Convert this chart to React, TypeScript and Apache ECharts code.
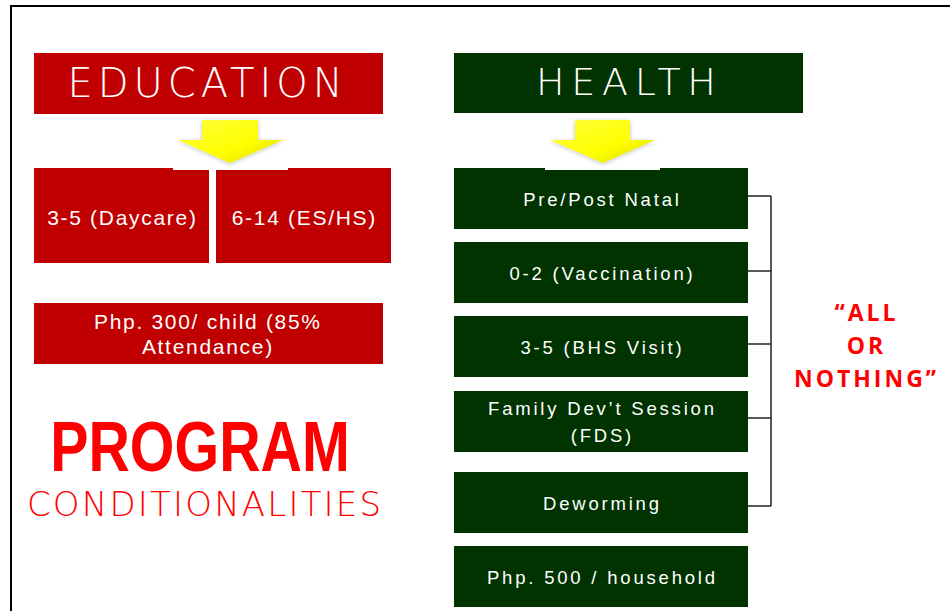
import React, { useEffect, useRef } from "react";
import * as echarts from "echarts";

const EDU_TITLE = "EDUCATION";
const HEALTH_TITLE = "HEALTH";
const EDU_AGES = ["3-5 (Daycare)", "6-14 (ES/HS)"];
const EDU_GRANT = "Php. 300/ child (85%\nAttendance)";
const HEALTH_ITEMS = [
  "Pre/Post Natal",
  "0-2 (Vaccination)",
  "3-5 (BHS Visit)",
  "Family Dev\u2019t Session\n(FDS)",
  "Deworming",
];
const HEALTH_GRANT = "Php. 500 / household";
const MAIN_TITLE = "PROGRAM";
const SUB_TITLE = "CONDITIONALITIES";
const RULE_TEXT = "\u201CALL\nOR\nNOTHING\u201D";

// layout
const RED = "#C00000";
const GREEN = "#003300";
const HEALTH_TOPS = [168, 242, 316, 391, 472];
const BRACKET_YS = [196, 271, 344, 418, 506];

function arrow(cx: number, shaftL: number, shaftR: number, headL: number, headR: number) {
  return [
    {
      type: "rect",
      shape: { x: headL - 5, y: 116, width: headR - headL + 10, height: 54 },
      style: { fill: "#ffffff" },
    },
    {
      type: "polygon",
      shape: {
        points: [
          [shaftL, 120],
          [shaftR, 120],
          [shaftR, 140],
          [headR, 140],
          [cx, 163],
          [headL, 140],
          [shaftL, 140],
        ],
      },
      style: {
        fill: new echarts.graphic.LinearGradient(0, 0, 1, 1, [
          { offset: 0, color: "#FFFF40" },
          { offset: 0.6, color: "#FFFF00" },
          { offset: 1, color: "#D8D800" },
        ]),
        shadowBlur: 4,
        shadowColor: "rgba(0,0,0,0.25)",
        shadowOffsetY: 1,
      },
    },
  ];
}

function boxText(x: number, y: number, text: string, size: number, lh: number) {
  return {
    type: "text",
    x,
    y,
    style: {
      text,
      x: 0,
      y: 0,
      fill: "#ffffff",
      font: `${size}px "Liberation Sans", Arial, sans-serif`,
      textAlign: "center",
      textVerticalAlign: "middle",
      lineHeight: lh,
    },
  };
}

export default function App() {
  const ref = useRef<HTMLDivElement>(null);
  useEffect(() => {
    if (!ref.current) return;
    const chart = echarts.init(ref.current, undefined, { renderer: "svg" });
    const spacing: Record<string, number> = {};
    const addSp = (t: string, sp: number) => t.split("\n").forEach((l) => (spacing[l] = sp));
    addSp(EDU_TITLE, 5);
    addSp(HEALTH_TITLE, 6.7);
    EDU_AGES.forEach((t) => addSp(t, 1.7));
    addSp(EDU_GRANT, 1.7);
    HEALTH_ITEMS.forEach((t) => addSp(t, 2.8));
    addSp(HEALTH_GRANT, 2.8);
    addSp(SUB_TITLE, 2.2);
    addSp(RULE_TEXT, 3);

    const g: any[] = [];
    // frame
    g.push({
      type: "rect",
      shape: { x: 11, y: 6, width: 960, height: 640 },
      style: { fill: "none", stroke: "#000", lineWidth: 2 },
    });
    // education title
    g.push({ type: "rect", shape: { x: 34, y: 53, width: 349, height: 61 }, style: { fill: RED } });
    g.push({
      type: "text",
      x: 205,
      y: 83,
      style: {
        text: EDU_TITLE,
        fill: "#fff",
        font: `200 40px "DejaVu Sans", sans-serif`,
        textAlign: "center",
        textVerticalAlign: "middle",
      },
    });
    // health title
    g.push({ type: "rect", shape: { x: 454, y: 53, width: 349, height: 60 }, style: { fill: GREEN } });
    g.push({
      type: "text",
      x: 626,
      y: 82,
      style: {
        text: HEALTH_TITLE,
        fill: "#fff",
        font: `200 38px "DejaVu Sans", sans-serif`,
        textAlign: "center",
        textVerticalAlign: "middle",
      },
    });
    // education boxes
    const eduXs = [34, 216];
    EDU_AGES.forEach((t, i) => {
      g.push({ type: "rect", shape: { x: eduXs[i], y: 168, width: 175, height: 95 }, style: { fill: RED } });
      g.push(boxText(eduXs[i] + 87.5, 217, t, 21, 26));
    });
    g.push({ type: "rect", shape: { x: 34, y: 303, width: 349, height: 61 }, style: { fill: RED } });
    g.push(boxText(207, 334, EDU_GRANT, 21, 25));
    // health boxes
    HEALTH_ITEMS.forEach((t, i) => {
      g.push({ type: "rect", shape: { x: 454, y: HEALTH_TOPS[i], width: 294, height: 61 }, style: { fill: GREEN } });
      g.push(boxText(601, HEALTH_TOPS[i] + 31, t, 18.5, 27));
    });
    g.push({ type: "rect", shape: { x: 454, y: 546, width: 294, height: 61 }, style: { fill: GREEN } });
    g.push(boxText(601, 577, HEALTH_GRANT, 18.5, 27));
    // arrows
    g.push(...arrow(230, 202, 258, 178, 283));
    g.push(...arrow(603, 575, 630, 550, 655));
    // bracket
    BRACKET_YS.forEach((y) => {
      g.push({
        type: "line",
        shape: { x1: 748, y1: y, x2: 771, y2: y },
        style: { stroke: "#222", lineWidth: 1.5 },
      });
    });
    g.push({
      type: "line",
      shape: { x1: 771, y1: BRACKET_YS[0], x2: 771, y2: BRACKET_YS[BRACKET_YS.length - 1] },
      style: { stroke: "#222", lineWidth: 1.5 },
    });
    // all or nothing
    g.push({
      type: "text",
      x: 865,
      y: 345,
      style: {
        text: RULE_TEXT,
        fill: "#FF0000",
        font: `bold 23px "Open Sans", sans-serif`,
        textAlign: "center",
        textVerticalAlign: "middle",
        lineHeight: 33,
      },
    });
    // program conditionalities
    g.push({
      type: "text",
      x: 200,
      y: 447,
      scaleX: 0.82,
      style: {
        text: MAIN_TITLE,
        fill: "#FF0000",
        font: `bold 70px "Liberation Sans", Arial, sans-serif`,
        textAlign: "center",
        textVerticalAlign: "middle",
      },
    });
    g.push({
      type: "text",
      x: 204,
      y: 504,
      style: {
        text: SUB_TITLE,
        fill: "#FF0000",
        font: `200 34px "DejaVu Sans", sans-serif`,
        textAlign: "center",
        textVerticalAlign: "middle",
      },
    });
    chart.setOption({ animation: false, graphic: { elements: g } });

    // apply letter spacing to the rendered SVG texts
    const texts = ref.current.querySelectorAll("text");
    texts.forEach((el) => {
      const sp = spacing[(el.textContent || "").trim()];
      if (sp) {
        (el as SVGTextElement).style.letterSpacing = sp + "px";
        const x = parseFloat(el.getAttribute("x") || "0");
        el.setAttribute("x", String(x + sp / 2));
      }
    });
    return () => chart.dispose();
  }, []);
  return (
    <div
      ref={ref}
      style={{ position: "fixed", left: 0, top: 0, width: 950, height: 611, background: "#fff" }}
    />
  );
}
